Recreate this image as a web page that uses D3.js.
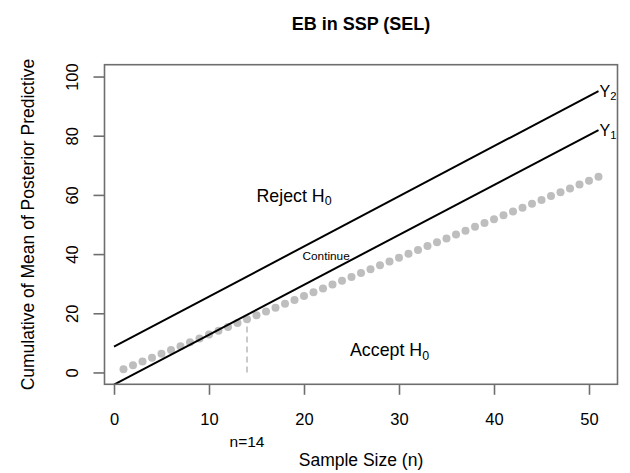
<!DOCTYPE html>
<html>
<head>
<meta charset="utf-8">
<script src="https://cdn.jsdelivr.net/npm/d3@7"></script>
<style>
  html, body { margin: 0; padding: 0; background: #fff; }
  text { font-family: "Liberation Sans", Arial, sans-serif; fill: #000; }
</style>
</head>
<body>
<svg id="chart" width="630" height="473"></svg>
<script>
// ---- data ----
const sampleSize = d3.range(1, 52); // n = 1..51
const cumMean = [1.1, 2.4, 3.7, 5.0, 6.3, 7.6, 8.9, 10.2, 11.5, 12.8,
  14.1, 15.4, 16.7, 18.0, 19.3, 20.6, 21.9, 23.2, 24.5, 25.8,
  27.1, 28.4, 29.7, 31.0, 32.3, 33.6, 34.9, 36.2, 37.5, 38.8,
  40.1, 41.4, 42.7, 44.0, 45.3, 46.6, 47.9, 49.2, 50.5, 51.8,
  53.1, 54.4, 55.7, 57.0, 58.3, 59.6, 60.9, 62.2, 63.5, 64.8, 66.1];
const boundaryX = [0, 51];
const boundaryY1 = [-4.1, 81.9];
const boundaryY2 = [8.7, 95.1];
const stopN = 14;
const xTicks = [0, 10, 20, 30, 40, 50];
const yTicks = [0, 20, 40, 60, 80, 100];

// ---- layout ----
const svg = d3.select("#chart");
const L = 104.5, R = 617.5, T = 64.7, B = 384.3;
const x = d3.scaleLinear().domain([-1, 53]).range([L, R]);
const y = d3.scaleLinear().domain([-4, 104]).range([B, T]);
const axisColor = "#6e6e6e";

svg.append("clipPath").attr("id", "clip")
  .append("rect").attr("x", L).attr("y", T).attr("width", R - L).attr("height", B - T);

const plot = svg.append("g").attr("clip-path", "url(#clip)");

// dashed stop line
plot.append("line")
  .attr("x1", x(stopN)).attr("x2", x(stopN))
  .attr("y1", y(0)).attr("y2", y(cumMean[stopN - 1]))
  .attr("stroke", "#bdbdbd").attr("stroke-width", 1.6)
  .attr("stroke-dasharray", "6,4");

// points
plot.selectAll("circle.pt").data(sampleSize).enter().append("circle")
  .attr("class", "pt")
  .attr("cx", d => x(d)).attr("cy", (d, i) => y(cumMean[i]))
  .attr("r", 4).attr("fill", "#bebebe");

// boundary lines
const line = d3.line().x(d => x(d[0])).y(d => y(d[1]));
[boundaryY1, boundaryY2].forEach(b => {
  plot.append("path")
    .datum(boundaryX.map((v, i) => [v, b[i]]))
    .attr("d", line).attr("fill", "none")
    .attr("stroke", "#000").attr("stroke-width", 2);
});

// box
svg.append("rect").attr("x", L).attr("y", T).attr("width", R - L).attr("height", B - T)
  .attr("fill", "none").attr("stroke", axisColor).attr("stroke-width", 1.6);

// x axis
const xAxis = d3.axisBottom(x).tickValues(xTicks).tickSize(10.5).tickFormat(d3.format("d"));
const gx = svg.append("g").attr("transform", `translate(0,${B})`).call(xAxis);
gx.select(".domain").remove();
gx.selectAll(".tick line").attr("stroke", axisColor).attr("stroke-width", 1.6);
gx.selectAll(".tick text").attr("y", 0).attr("dy", 0)
  .attr("transform", "translate(0,41)")
  .style("font-size", "16.5px").style("font-family", "Liberation Sans, Arial, sans-serif").attr("fill", "#000");

// y axis
const yAxis = d3.axisLeft(y).tickValues(yTicks).tickSize(11).tickFormat(d3.format("d"));
const gy = svg.append("g").attr("transform", `translate(${L},0)`).call(yAxis);
gy.select(".domain").remove();
gy.selectAll(".tick line").attr("stroke", axisColor).attr("stroke-width", 1.6);
gy.selectAll(".tick text").attr("x", 0).attr("dy", 0)
  .attr("transform", `translate(${78 - L},0) rotate(-90)`)
  .attr("text-anchor", "middle")
  .style("font-size", "16.5px").style("font-family", "Liberation Sans, Arial, sans-serif").attr("fill", "#000");

// titles
svg.append("text").attr("x", (L + R) / 2).attr("y", 29.5)
  .attr("text-anchor", "middle").style("font-size", "18px").style("font-weight", "bold")
  .text("EB in SSP (SEL)");
svg.append("text").attr("x", (L + R) / 2).attr("y", 466)
  .attr("text-anchor", "middle").style("font-size", "17.5px")
  .text("Sample Size (n)");
svg.append("text")
  .attr("transform", `translate(33.5,${(T + B) / 2}) rotate(-90)`)
  .attr("text-anchor", "middle").style("font-size", "17.5px")
  .text("Cumulative of Mean of Posterior Predictive");

// n=14 label
svg.append("text").attr("x", x(stopN)).attr("y", 446.5)
  .attr("text-anchor", "middle").style("font-size", "15.5px")
  .text("n=" + stopN);

// region labels
function subLabel(xp, yp, main, sub, size, anchor) {
  const t = svg.append("text").attr("x", xp).attr("y", yp)
    .attr("text-anchor", anchor).style("font-size", size + "px");
  t.append("tspan").text(main);
  t.append("tspan").attr("dy", size * 0.2).style("font-size", (size * 0.7) + "px").text(sub);
  return t;
}
subLabel(256.5, 201.5, "Reject H", "0", 17.8, "start");
subLabel(350, 356, "Accept H", "0", 17.8, "start");
svg.append("text").attr("x", 302.5).attr("y", 260).style("font-size", "11.8px").text("Continue");

// Y1 / Y2 end labels
subLabel(x(51) + 1, y(boundaryY2[1]) + 5.5, "Y", "2", 16, "start");
subLabel(x(51) + 1, y(boundaryY1[1]) + 5.5, "Y", "1", 16, "start");
</script>
</body>
</html>
